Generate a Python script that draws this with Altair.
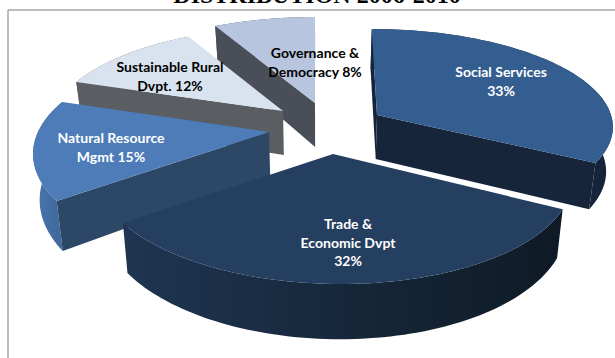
import altair as alt
import numpy as np
import pandas as pd

# Programme shares in percent, clockwise from twelve o'clock
sectors = ["Social Services", "Trade & Economic Dvpt", "Natural Resource Mgmt",
           "Sustainable Rural Dvpt.", "Governance & Democracy"]
shares = [33, 32, 15, 12, 8]
label_lines = ["Social Services\n33%", "Trade &\nEconomic Dvpt\n32%",
               "Natural Resource\nMgmt 15%", "Sustainable Rural\nDvpt. 12%",
               "Governance &\nDemocracy 8%"]
title_text = "DISTRIBUTION 2006-2010"

W, H = 615, 358
VANISH_X = 320
DEPTH = 44         # extrusion height of the disc at the pivot
SQUEEZE = 0.023    # lower rim pulled toward the vanishing line

# Per-sector look: exploded pivot, disc radii, perspective, colours, label offset, visible cut faces
STYLE = {
    "Social Services":        dict(pivot=(377, 115), rx=234, ry=94.7, focus=0.101, lean=57, top="#355e90", cut="#16253a", rim=("#1b2d46", "#15243a"), label=(124, -42), text="white", cuts=(0, -1)),
    "Trade & Economic Dvpt":  dict(pivot=(333, 154), rx=233, ry=103.5, focus=0.2037, lean=30, top="#253f60", cut="#1e334f", rim=("#1f3551", "#0e1a25"), label=(15, 71), text="white", cuts=()),
    "Natural Resource Mgmt":  dict(pivot=(269, 132), rx=231, ry=103.5, focus=0.2037, lean=0, top="#4d7cb8", cut="#2d4866", rim=("#4a77b0", "#3c6496"), label=(-158, 7), text="white", cuts=(0,)),
    "Sustainable Rural Dvpt.": dict(pivot=(283, 111), rx=231, ry=100, focus=0.2037, lean=0, top="#d9e3ef", cut="#5a5d62", rim=("#5a5d62", "#5a5d62"), label=(-113, -43), text="black", cuts=(0,)),
    "Governance & Democracy": dict(pivot=(315, 103), rx=244, ry=103.5, focus=0.2037, lean=0, top="#b8c5de", cut="#4a4e58", rim=("#4a4e58", "#4a4e58"), label=(0, -49), text="black", cuts=(0,)),
}
DRAW_ORDER = ["Governance & Democracy", "Sustainable Rural Dvpt.",
              "Natural Resource Mgmt", "Social Services", "Trade & Economic Dvpt"]


def project(st, X, Y):
    """Perspective projection of disc coordinates relative to an exploded pivot."""
    scale = 1.0 / (1.0 - st["focus"] * Y)
    sx = st["pivot"][0] + st["rx"] * X * scale + st["lean"] * (scale - 1.0)
    sy = st["pivot"][1] + st["ry"] * Y * scale
    return sx, sy, scale


def lower(sx, sy, scale):
    """The matching point on the underside of the disc."""
    return sx + (VANISH_X - sx) * SQUEEZE, sy + DEPTH * scale


bounds = np.cumsum([0] + shares) / sum(shares) * 2 * np.pi
spans = {s: (bounds[k], bounds[k + 1]) for k, s in enumerate(sectors)}

polygons = []
labels = []
for name in DRAW_ORDER:
    st = STYLE[name]
    a0, a1 = spans[name]
    top_arc = [project(st, np.sin(a), -np.cos(a)) for a in np.linspace(a0, a1, 80)]
    bot_arc = [lower(*p) for p in top_arc]
    top_xy = [(p[0], p[1]) for p in top_arc]
    pv = (st["pivot"][0], st["pivot"][1])
    pv_low = lower(pv[0], pv[1], 1.0)

    polygons.append((top_xy + bot_arc[::-1], "rim", name))
    for end in st["cuts"]:
        polygons.append(([pv, top_xy[end], bot_arc[end], pv_low], "cut", name))
    polygons.append(([pv] + top_xy, "top", name))

    idx = sectors.index(name)
    labels.append(dict(x=pv[0] + st["label"][0], y=pv[1] + st["label"][1],
                       text=label_lines[idx], color=st["text"]))

x_scale = alt.Scale(domain=[0, W], range=[0, W], nice=False, zero=False)
y_scale = alt.Scale(domain=[0, H], range=[0, H], nice=False, zero=False)
x_enc = alt.X("x:Q", scale=x_scale, axis=None)
y_enc = alt.Y("y:Q", scale=y_scale, axis=None)

layers = []
for pts, kind, name in polygons:
    st = STYLE[name]
    df = pd.DataFrame({"x": [p[0] for p in pts], "y": [p[1] for p in pts], "i": range(len(pts))})
    if kind == "rim":
        fill = alt.Gradient(gradient="linear", x1=0, x2=1, y1=0, y2=0,
                            stops=[alt.GradientStop(color=st["rim"][0], offset=0),
                                   alt.GradientStop(color=st["rim"][1], offset=1)])
    else:
        fill = st[kind]
    layers.append(
        alt.Chart(df).mark_line(fill=fill, stroke=None, interpolate="linear-closed", clip=False)
        .encode(x=x_enc, y=y_enc, order="i:Q")
    )

# Outer frame, open toward the right and bottom edges
frame_h = pd.DataFrame({"x": [8, W], "y": [10, 10], "i": [0, 1]})
frame_v = pd.DataFrame({"x": [8, 8], "y": [10, H], "i": [0, 1]})
for fr in (frame_h, frame_v):
    layers.append(
        alt.Chart(fr).mark_line(color="#a6a6a6", strokeWidth=1.5)
        .encode(x=x_enc, y=y_enc, order="i:Q")
    )

label_df = pd.DataFrame(labels)
layers.append(
    alt.Chart(label_df).mark_text(font="Lato", fontWeight="bold", fontSize=14,
                                  lineBreak="\n", lineHeight=18.7, align="center", baseline="middle")
    .encode(x=x_enc, y=y_enc, text="text:N", color=alt.Color("color:N", scale=None))
)

title_df = pd.DataFrame({"x": [317], "y": [3], "text": [title_text]})
layers.append(
    alt.Chart(title_df).mark_text(font="Liberation Serif", fontWeight="bold", fontSize=24,
                                  align="center", baseline="alphabetic", color="black")
    .encode(x=x_enc, y=y_enc, text="text:N")
)

chart = (
    alt.layer(*layers)
    .properties(width=W, height=H, padding=0, autosize=alt.AutoSizeParams(type="none"),
                background="white")
    .configure_view(stroke=None)
)
chart.save("out.html", embed_options={"renderer": "svg", "actions": False})
